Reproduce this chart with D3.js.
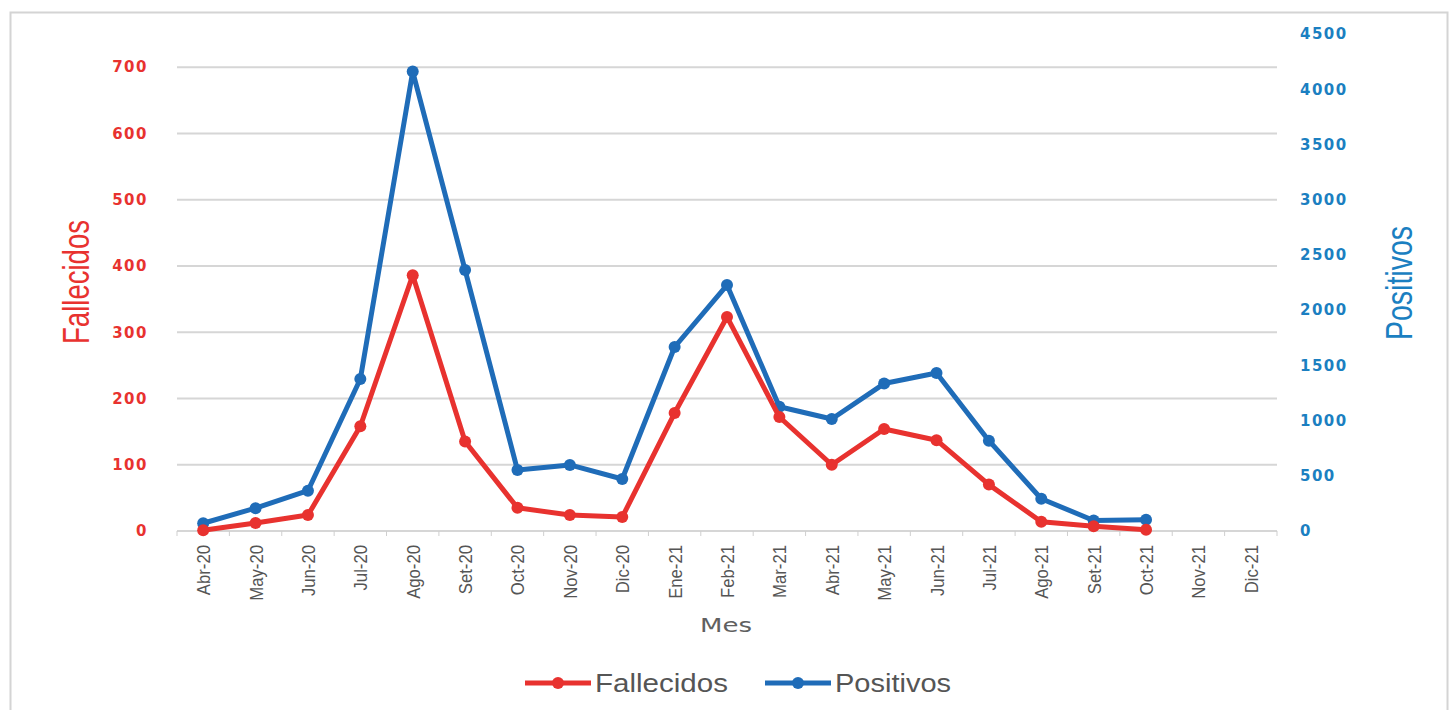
<!DOCTYPE html>
<html>
<head>
<meta charset="utf-8">
<script src="https://cdn.jsdelivr.net/npm/d3@7"></script>
<style>
  html, body { margin: 0; padding: 0; background: #ffffff; }
  svg { display: block; }
</style>
</head>
<body>
<svg id="chart" width="1452" height="710"></svg>
<script>
// Monthly deaths (left axis) and positive cases (right axis)
const meses = ["Abr-20","May-20","Jun-20","Jul-20","Ago-20","Set-20","Oct-20","Nov-20","Dic-20",
               "Ene-21","Feb-21","Mar-21","Abr-21","May-21","Jun-21","Jul-21","Ago-21","Set-21","Oct-21",
               "Nov-21","Dic-21"];
const fallecidos = [1, 12, 24, 158, 386, 135, 35, 24, 21, 178, 323, 172, 100, 154, 137, 70, 14, 7, 2, null, null];
const positivos  = [70, 207, 365, 1376, 4160, 2363, 552, 598, 471, 1666, 2227, 1125, 1014, 1335, 1431, 818, 292, 95, 102, null, null];
const ticksIzq = [0, 100, 200, 300, 400, 500, 600, 700];
const ticksDer = [0, 500, 1000, 1500, 2000, 2500, 3000, 3500, 4000, 4500];

const RED = "#e8322f";
const BLUE = "#1f6cb8";
const BLUE_TXT = "#1b7fc1";

const svg = d3.select("#chart");

// outer frame
svg.append("rect")
  .attr("x", 10.5).attr("y", 12.5).attr("width", 1437).attr("height", 710)
  .attr("fill", "#fff").attr("stroke", "#d4d4d4").attr("stroke-width", 2);

const plot = { left: 177, right: 1277, top: 34, bottom: 531 };

const x = d3.scaleBand().domain(meses).range([plot.left, plot.right]);
const yL = d3.scaleLinear().domain([0, 750]).range([plot.bottom, plot.top]);
const yR = d3.scaleLinear().domain([0, 4500]).range([plot.bottom, plot.top]);

// horizontal gridlines
svg.append("g").selectAll("line").data(ticksIzq.filter(d => d > 0)).join("line")
  .attr("x1", plot.left).attr("x2", plot.right)
  .attr("y1", d => yL(d)).attr("y2", d => yL(d))
  .attr("stroke", "#d6d6d6").attr("stroke-width", 2);

// left axis
const axL = svg.append("g").attr("transform", `translate(${plot.left},0)`)
  .call(d3.axisLeft(yL).tickValues(ticksIzq).tickFormat(d3.format("d")).tickSize(0).tickPadding(29));
axL.select(".domain").remove();
axL.selectAll("text")
  .attr("fill", RED).attr("font-family", "DejaVu Sans").attr("font-weight", "bold")
  .attr("font-size", 15).attr("letter-spacing", "1.5px");

// right axis
const axR = svg.append("g").attr("transform", `translate(${plot.right},0)`)
  .call(d3.axisRight(yR).tickValues(ticksDer).tickFormat(d3.format("d")).tickSize(0).tickPadding(23));
axR.select(".domain").remove();
axR.selectAll("text")
  .attr("fill", BLUE_TXT).attr("font-family", "DejaVu Sans").attr("font-weight", "bold")
  .attr("font-size", 15).attr("letter-spacing", "1.5px");

// x axis baseline with boundary ticks
const axX = svg.append("g").attr("transform", `translate(0,${plot.bottom})`);
axX.append("line").attr("x1", plot.left).attr("x2", plot.right)
  .attr("stroke", "#d6d6d6").attr("stroke-width", 2);
axX.selectAll("line.tk").data(meses.concat(["__end"])).join("line").attr("class", "tk")
  .attr("x1", (d, i) => plot.left + i * x.step()).attr("x2", (d, i) => plot.left + i * x.step())
  .attr("y1", 0).attr("y2", 5).attr("stroke", "#cfcfcf").attr("stroke-width", 1);
axX.selectAll("text").data(meses).join("text")
  .attr("transform", d => `translate(${x(d) + x.bandwidth() / 2 + 7},14) rotate(-90) scale(0.88,1)`)
  .attr("text-anchor", "end")
  .attr("font-family", "Liberation Sans").attr("font-size", 19)
  .attr("fill", "#555555")
  .text(d => d);

// axis titles
svg.append("text")
  .attr("transform", "translate(89,282) rotate(-90)")
  .attr("text-anchor", "middle")
  .attr("font-family", "Liberation Sans").attr("font-size", 37)
  .attr("textLength", 124).attr("lengthAdjust", "spacingAndGlyphs")
  .attr("fill", RED).text("Fallecidos");

svg.append("text")
  .attr("transform", "translate(1412,283) rotate(-90)")
  .attr("text-anchor", "middle")
  .attr("font-family", "Liberation Sans").attr("font-size", 37)
  .attr("textLength", 114).attr("lengthAdjust", "spacingAndGlyphs")
  .attr("fill", BLUE_TXT).text("Positivos");

svg.append("text")
  .attr("x", 726).attr("y", 632).attr("text-anchor", "middle")
  .attr("font-family", "DejaVu Sans").attr("font-size", 19)
  .attr("textLength", 52).attr("lengthAdjust", "spacingAndGlyphs")
  .attr("fill", "#606060").text("Mes");

// series
const cx = d => x(d) + x.bandwidth() / 2;

function drawSeries(vals, scale, color) {
  const pts = meses.map((m, i) => ({ m, v: vals[i] }));
  const line = d3.line().defined(d => d.v != null)
    .x(d => cx(d.m)).y(d => scale(d.v));
  svg.append("path").datum(pts)
    .attr("d", line).attr("fill", "none")
    .attr("stroke", color).attr("stroke-width", 5).attr("stroke-linejoin", "round");
  svg.append("g").selectAll("circle").data(pts.filter(d => d.v != null)).join("circle")
    .attr("cx", d => cx(d.m)).attr("cy", d => scale(d.v)).attr("r", 6)
    .attr("fill", color);
}
drawSeries(positivos, yR, BLUE);
drawSeries(fallecidos, yL, RED);

// legend
const legend = [
  { name: "Fallecidos", color: RED, x0: 525 },
  { name: "Positivos", color: BLUE, x0: 765 }
];
const lg = svg.append("g").selectAll("g").data(legend).join("g")
  .attr("transform", d => `translate(${d.x0},683)`);
lg.append("line").attr("x1", 0).attr("x2", 66).attr("y1", 0).attr("y2", 0)
  .attr("stroke", d => d.color).attr("stroke-width", 5);
lg.append("circle").attr("cx", 33).attr("cy", 0).attr("r", 6).attr("fill", d => d.color);
lg.append("text").attr("x", 70).attr("y", 9)
  .attr("font-family", "Liberation Sans").attr("font-size", 26)
  .attr("textLength", d => d.name === "Fallecidos" ? 133 : 116)
  .attr("lengthAdjust", "spacingAndGlyphs")
  .attr("fill", "#555").text(d => d.name);
</script>
</body>
</html>
